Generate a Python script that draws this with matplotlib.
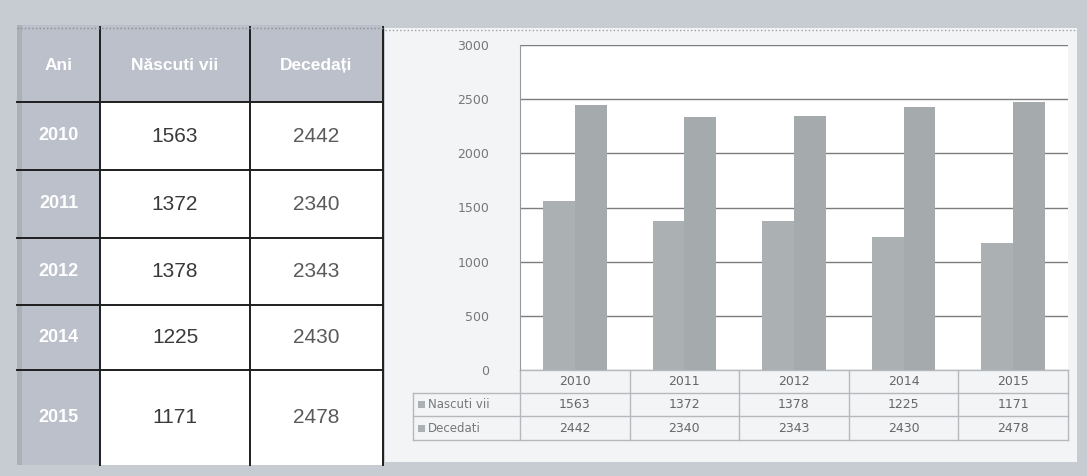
import matplotlib.pyplot as plt
from matplotlib.patches import Rectangle
import numpy as np

# data
ani = ['2010', '2011', '2012', '2014', '2015']
nascuti = [1563, 1372, 1378, 1225, 1171]
decedati = [2442, 2340, 2343, 2430, 2478]
header = ['Ani', 'Născuti vii', 'Decedați']
series_names = ['Nascuti vii', 'Decedati']

W, H = 1087, 476
fig = plt.figure(figsize=(W / 100, H / 100), dpi=100)
fig.patch.set_facecolor('#c6ccd2')

# pixel canvas for the tables
bg = fig.add_axes([0, 0, 1, 1])
bg.set_xlim(0, W)
bg.set_ylim(H, 0)
bg.axis('off')

# left table
cols = [17, 100, 250, 383]
rows = [25, 102, 170, 238, 305, 370, 465]
bg.add_patch(Rectangle((cols[0], rows[0]), cols[-1] - cols[0], rows[-1] - rows[0],
                       fc='#bcc0cb', ec='none'))
bg.add_patch(Rectangle((cols[0], rows[0]), 5, rows[-1] - rows[0], fc='#aab0b6', ec='none'))
bg.add_patch(Rectangle((cols[1], rows[1]), cols[-1] - cols[1], rows[-1] - rows[1],
                       fc='white', ec='none'))
for x in cols[1:]:
    bg.plot([x, x], [rows[0] + 2, rows[-1]], color='#1e1e1e', lw=1.4)
for y in rows[1:-1]:
    bg.plot([cols[0], cols[-1]], [y, y], color='#1e1e1e', lw=1.4)
bg.plot([cols[0], cols[-1]], [rows[0] + 3, rows[0] + 3], color='#8a8f94', lw=1, ls=':')

font = 'Liberation Sans'
for j, h in enumerate(header):
    bg.text((cols[j] + cols[j + 1]) / 2, (rows[0] + rows[1]) / 2 + 2, h, color='white',
            fontsize=12.5, fontweight='bold', ha='center', va='center', family=font)
for i, an in enumerate(ani):
    yc = (rows[i + 1] + rows[i + 2]) / 2
    bg.text((cols[0] + cols[1]) / 2, yc, an, color='white', fontsize=13,
            fontweight='bold', ha='center', va='center', family=font)
    bg.text((cols[1] + cols[2]) / 2, yc, str(nascuti[i]), color='#3a3a3a',
            fontsize=15, ha='center', va='center', family=font)
    bg.text((cols[2] + cols[3]) / 2, yc, str(decedati[i]), color='#5a5a5a',
            fontsize=15, ha='center', va='center', family=font)

# chart panel
bg.add_patch(Rectangle((385, 28), 692, 434, fc='#f3f4f6', ec='none'))
bg.plot([385, 1077], [30, 30], color='#9aa0a6', lw=1, ls=':')

px0, px1, py0, py1 = 520, 1068, 45, 370
ax = fig.add_axes([px0 / W, 1 - py1 / H, (px1 - px0) / W, (py1 - py0) / H])
ax.set_facecolor('white')
x = np.arange(len(ani))
bw = 0.29
ax.bar(x - bw / 2, nascuti, bw, color='#abb0b2')
ax.bar(x + bw / 2, decedati, bw, color='#a5abad')
ax.set_xlim(-0.5, len(ani) - 0.5)
ax.set_ylim(0, 3000)
ax.set_yticks(range(0, 3001, 500))
ax.yaxis.grid(True, color='#7c7c7c', lw=1)
ax.set_axisbelow(True)
ax.set_xticks([])
ax.tick_params(axis='y', length=0, pad=22, labelsize=9, labelcolor='#777777')
for s in ['top', 'right', 'bottom']:
    ax.spines[s].set_visible(False)
ax.spines['left'].set_color('#999999')

# data table under chart
tx0 = 413
tr = [370, 393, 416, 440]
cw = (px1 - px0) / len(ani)
line_c = '#b5b9bd'
for y in tr:
    bg.plot([tx0 if y > tr[0] else px0, px1], [y, y], color=line_c, lw=1)
bg.plot([tx0, tx0], [tr[1], tr[-1]], color=line_c, lw=1)
for k in range(len(ani) + 1):
    xx = px0 + k * cw
    bg.plot([xx, xx], [tr[0], tr[-1]], color=line_c, lw=1)
for k, an in enumerate(ani):
    xc = px0 + (k + 0.5) * cw
    bg.text(xc, (tr[0] + tr[1]) / 2, an, color='#666666', fontsize=9, ha='center', va='center')
    bg.text(xc, (tr[1] + tr[2]) / 2, str(nascuti[k]), color='#666666', fontsize=9, ha='center', va='center')
    bg.text(xc, (tr[2] + tr[3]) / 2, str(decedati[k]), color='#666666', fontsize=9, ha='center', va='center')
for r, name in enumerate(series_names):
    yc = (tr[r + 1] + tr[r + 2]) / 2
    bg.add_patch(Rectangle((tx0 + 5, yc - 3.5), 7, 7, fc='#abb0b2', ec='none'))
    bg.text(tx0 + 15, yc, name, color='#777777', fontsize=8.5, ha='left', va='center')

fig.savefig('out.png', dpi=100, facecolor=fig.get_facecolor())
